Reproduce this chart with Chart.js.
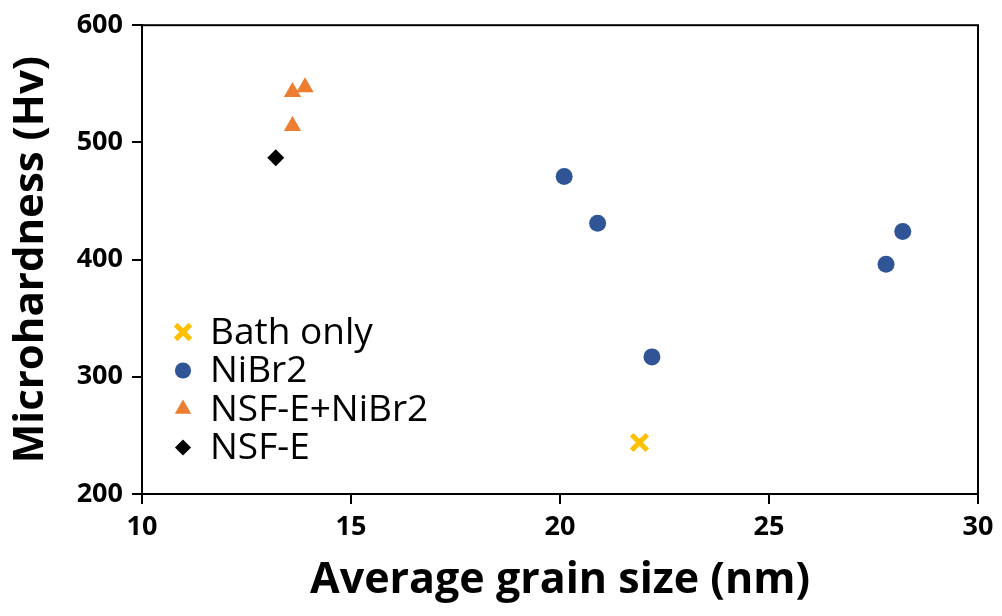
<!DOCTYPE html>
<html>
<head>
<meta charset="utf-8">
<script src="https://cdn.jsdelivr.net/npm/chart.js@4.4.1/dist/chart.umd.min.js"></script>
<style>
  html, body { margin:0; padding:0; background:#fff; }
  #wrap { width:1002px; height:616px; position:relative; }
</style>
</head>
<body>
<div id="wrap"><canvas id="c" width="1002" height="616"></canvas></div>
<script>
// ─── Data: grain size (nm) vs microhardness (Hv) ─────────────────────────────
const bathOnlyX = [21.9];
const bathOnlyY = [244];
const nibr2X    = [20.1, 20.9, 22.2, 27.8, 28.2];
const nibr2Y    = [471, 431, 317, 396, 424];
const nsfNibr2X = [13.6, 13.9, 13.6];
const nsfNibr2Y = [543, 547, 514];
const nsfX      = [13.2];
const nsfY      = [487];

const xTicks = [10, 15, 20, 25, 30];
const yTicks = [200, 300, 400, 500, 600];

const FONT_FAMILY = '"Open Sans", "Noto Sans", sans-serif';

const pts = (xs, ys) => xs.map((x, i) => ({ x, y: ys[i] }));

const SERIES = [
  { label:'Bath only',   data:pts(bathOnlyX, bathOnlyY), pointStyle:'crossRot', radius:11,
    backgroundColor:'#FFC000', borderColor:'#FFC000', borderWidth:5 },
  { label:'NiBr2',       data:pts(nibr2X, nibr2Y),       pointStyle:'circle',   radius:8.5,
    backgroundColor:'#2F5597', borderColor:'#2F5597', borderWidth:0 },
  { label:'NSF-E+NiBr2', data:pts(nsfNibr2X, nsfNibr2Y), pointStyle:'triangle', radius:10,
    backgroundColor:'#ED7D31', borderColor:'#ED7D31', borderWidth:0 },
  { label:'NSF-E',       data:pts(nsfX, nsfY),           pointStyle:'rectRot',  radius:8.5,
    backgroundColor:'#000000', borderColor:'#000000', borderWidth:0 },
];

// ─── Legend drawn inside the plot area, left side ────────────────────────────
const insideLegend = {
  id: 'insideLegend',
  afterDatasetsDraw(chart) {
    const ctx = chart.ctx;
    const x0 = 183, textX = 210, y0 = 332, step = 38.5;
    ctx.save();
    ctx.font = '37px ' + FONT_FAMILY;
    ctx.textBaseline = 'middle';
    chart.data.datasets.forEach((ds, i) => {
      const y = y0 + i * step;
      ctx.fillStyle = ds.backgroundColor;
      ctx.strokeStyle = ds.borderColor;
      ctx.lineWidth = ds.borderWidth;
      Chart.helpers.drawPoint(ctx, { pointStyle: ds.pointStyle, radius: ds.radius * 0.95, rotation: 0, borderWidth: ds.borderWidth }, x0, y);
      ctx.fillStyle = '#000';
      ctx.fillText(ds.label, textX, y + 1);
    });
    ctx.restore();
  }
};

// ─── Full box around the plot ────────────────────────────────────────────────
const plotBox = {
  id: 'plotBox',
  afterDraw(chart) {
    const { left, top, right, bottom } = chart.chartArea;
    const ctx = chart.ctx;
    ctx.save();
    ctx.strokeStyle = '#000';
    ctx.lineWidth = 2;
    ctx.strokeRect(left, top, right - left, bottom - top);
    ctx.restore();
  }
};

new Chart(document.getElementById('c').getContext('2d'), {
  type: 'scatter',
  data: {
    datasets: SERIES.map(s => ({
      label: s.label,
      data: s.data,
      pointStyle: s.pointStyle,
      pointRadius: s.radius,
      pointHoverRadius: s.radius,
      pointBackgroundColor: s.backgroundColor,
      pointBorderColor: s.borderColor,
      pointBorderWidth: s.borderWidth,
      backgroundColor: s.backgroundColor,
      borderColor: s.borderColor,
      borderWidth: s.borderWidth,
      radius: s.radius,
    }))
  },
  options: {
    responsive: false,
    animation: false,
    layout: { padding: { left: 0, top: 24, right: 24, bottom: 0 } },
    plugins: {
      legend: { display: false },
      tooltip: { enabled: false }
    },
    scales: {
      x: {
        type: 'linear', min: 10, max: 30,
        afterBuildTicks(scale) { scale.ticks = xTicks.map(v => ({ value: v })); },
        afterFit(scale) { scale.height = 122; },
        grid: { display: true, drawOnChartArea: false, drawTicks: true, tickLength: 10, color: '#000', lineWidth: 2 },
        border: { display: true, color: '#000', width: 2 },
        ticks: { color: '#000', padding: 7, font: { family: FONT_FAMILY, size: 27, weight: 'bold' } },
        title: { display: true, text: 'Average grain size (nm)', color: '#000',
                 padding: { top: 0, bottom: 9 }, font: { family: FONT_FAMILY, size: 43, weight: 'bold' } }
      },
      y: {
        type: 'linear', min: 200, max: 600,
        afterBuildTicks(scale) { scale.ticks = yTicks.map(v => ({ value: v })); },
        afterFit(scale) { scale.width = 142; },
        grid: { display: true, drawOnChartArea: false, drawTicks: true, tickLength: 10, color: '#000', lineWidth: 2 },
        border: { display: true, color: '#000', width: 2 },
        ticks: { color: '#000', padding: 9, font: { family: FONT_FAMILY, size: 27, weight: 'bold' } },
        title: { display: true, text: 'Microhardness (Hv)', color: '#000',
                 padding: { top: 6, bottom: 0 }, font: { family: FONT_FAMILY, size: 42, weight: 'bold' } }
      }
    }
  },
  plugins: [insideLegend, plotBox]
});
</script>
</body>
</html>
